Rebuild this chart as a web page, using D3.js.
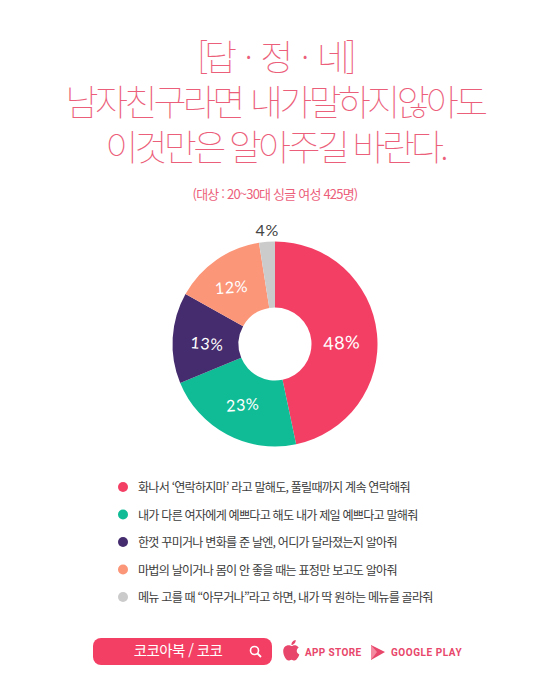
<!DOCTYPE html>
<html lang="ko"><head><meta charset="utf-8">
<script src="https://cdn.jsdelivr.net/npm/d3@7/dist/d3.min.js"></script>
<style>html,body{margin:0;padding:0;background:#fff}svg{display:block}text{font-family:"Noto Sans CJK KR","Noto Sans",sans-serif}</style>
</head><body><svg id="c" width="550" height="688"></svg>
<script>
const titleLines = ["[답 · 정 · 네]", "남자친구라면 내가말하지않아도", "이것만은 알아주길 바란다."];
const subtitle = "(대상 : 20~30대 싱글 여성 425명)";
const categories = [
  "화나서 ‘연락하지마’ 라고 말해도, 풀릴때까지 계속 연락해줘",
  "내가 다른 여자에게 예쁘다고 해도 내가 제일 예쁘다고 말해줘",
  "한껏 꾸미거나 변화를 준 날엔, 어디가 달라졌는지 알아줘",
  "마법의 날이거나 몸이 안 좋을 때는 표정만 보고도 알아줘",
  "메뉴 고를 때 “아무거나”라고 하면, 내가 딱 원하는 메뉴를 골라줘"
];
const labelValues = [48, 23, 13, 12, 4];
const drawnShares = [46.7, 22.1, 14.3, 14.4, 2.5];
const colors = ["#f43f65", "#10bc96", "#452c6e", "#fb9679", "#cbcbcb"];
const labelColors = ["#fff", "#fff", "#fff", "#fff", "#444"];
const labelRadii = [69, 69, 69, 69, 112];
const labelNudge = [[-2, 6], [0, 0], [1, 4], [-4, 0], [1, -2]];
const labelTilt = [-3, -4, 5, -4, 0];
const titleWordSpacing = [5, 2, 0];

const svg = d3.select("#c");
const cx = 275, cy = 344, rOuter = 102.5, rInner = 36.5;

const titleY = d3.scaleLinear().domain([0, 2]).range([71, 161]);
svg.append("text").attr("text-anchor", "middle")
  .attr("font-size", 36).attr("font-weight", 100).attr("letter-spacing", -3.8)
  .attr("fill", "#ec5f7b")
  .selectAll("tspan").data(titleLines).join("tspan")
  .attr("x", 275).attr("y", (d, i) => titleY(i))
  .attr("word-spacing", (d, i) => titleWordSpacing[i])
  .text(d => d);
svg.append("text").attr("x", 275).attr("y", 199).attr("text-anchor", "middle")
  .attr("font-size", 13).attr("font-weight", 400).attr("letter-spacing", -0.8)
  .attr("fill", "#ec5f7b").text(subtitle);

const pie = d3.pie().sort(null).value(d => d)(drawnShares);
const arc = d3.arc().innerRadius(rInner).outerRadius(rOuter);
const g = svg.append("g").attr("transform", `translate(${cx},${cy})`);
g.selectAll("path").data(pie).join("path").attr("d", arc).attr("fill", (d, i) => colors[i]);
g.selectAll("text").data(pie).join("text")
  .attr("transform", (d, i) => {
    const [x, y] = d3.arc().innerRadius(labelRadii[i]).outerRadius(labelRadii[i]).centroid(d);
    return `translate(${x + labelNudge[i][0]},${y + labelNudge[i][1]}) rotate(${labelTilt[i]})`;
  })
  .attr("text-anchor", "middle").attr("dy", "0.35em")
  .attr("font-size", (d, i) => i === 0 ? 18 : 16).attr("font-weight", 400).attr("letter-spacing", 0.6)
  .style("font-family", "'Lato',sans-serif")
  .attr("fill", (d, i) => labelColors[i]).text((d, i) => labelValues[i] + "%");

const legendY = d3.scalePoint().domain(d3.range(categories.length)).range([487, 597]);
const leg = svg.append("g").selectAll("g").data(categories).join("g")
  .attr("transform", (d, i) => `translate(0,${legendY(i)})`);
leg.append("circle").attr("cx", 123).attr("r", 5).attr("fill", (d, i) => colors[i]);
leg.append("text").attr("x", 138).attr("dy", "0.42em").attr("font-size", 12.1)
  .attr("letter-spacing", -0.78).attr("font-weight", 400).attr("fill", "#3c3c3c").text(d => d);

svg.append("rect").attr("x", 93).attr("y", 638).attr("width", 179).attr("height", 27).attr("rx", 8).attr("fill", "#f43f65");
svg.append("text").attr("x", 178).attr("y", 656).attr("text-anchor", "middle").attr("font-size", 14.5)
  .attr("font-weight", 400).attr("letter-spacing", -0.6).attr("fill", "#fff").text("코코아북 / 코코");
svg.append("circle").attr("cx", 254.5).attr("cy", 650.5).attr("r", 4).attr("fill", "none").attr("stroke", "#fff").attr("stroke-width", 1.6);
svg.append("line").attr("x1", 257.5).attr("y1", 653.5).attr("x2", 261).attr("y2", 657).attr("stroke", "#fff").attr("stroke-width", 1.8);

const pink = "#e8466a";
svg.append("path").attr("fill", pink).attr("transform", "translate(-4,0)")
  .attr("d", "M291 645.5c2-.9 3.6.4 4.5.4s2.6-1.4 4.7-.4c1.2.5 2 1.3 2.5 2.1-2.9 1.8-2.4 5.6.6 7-.7 2.3-2.8 6-4.8 6-1.2 0-1.8-.8-3-.8s-1.9.8-3 .8c-2.2 0-5.3-5-5.3-9.5 0-2.7 1.3-4.8 3.8-5.6zM295.5 645c-.2-2.5 1.7-4.8 4.2-5 .2 2.6-2 5-4.2 5z");
svg.append("text").attr("x", 305).attr("y", 656).attr("font-size", 10).attr("font-weight", 700).attr("letter-spacing", 0.35)
  .style("font-family", "Roboto,sans-serif").attr("fill", pink).text("APP STORE");
svg.append("path").attr("fill", pink).attr("d", "M371 645l14 7-14 8z");
svg.append("path").attr("fill", "#f48aa0").attr("d", "M371 645l6 7-6 8z");
svg.append("text").attr("x", 391).attr("y", 656).attr("font-size", 10).attr("font-weight", 700).attr("letter-spacing", 0.55)
  .style("font-family", "Roboto,sans-serif").attr("fill", pink).text("GOOGLE PLAY");
</script></body></html>
